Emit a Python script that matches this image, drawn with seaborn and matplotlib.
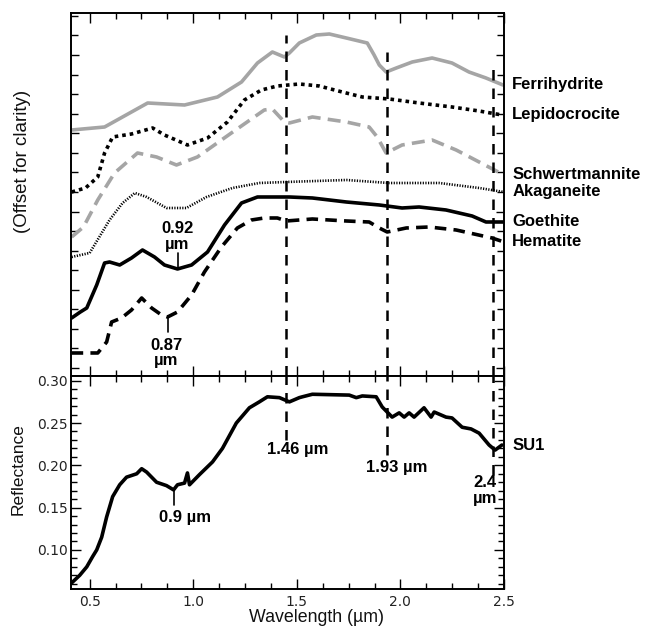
import matplotlib
matplotlib.use("Agg")
import matplotlib.pyplot as plt
import seaborn as sns
import pandas as pd
import numpy as np
from matplotlib.ticker import MultipleLocator, FixedLocator, FormatStrFormatter

# ---------------- data ----------------
# Top panel: laboratory spectra, offset for clarity (arbitrary units)
ferri_wl = [0.413, 0.572, 0.780, 0.958, 1.117, 1.233, 1.310, 1.382, 1.440, 1.464, 1.512, 1.594,
            1.657, 1.739, 1.840, 1.873, 1.898, 1.931, 1.980, 2.057, 2.153, 2.249, 2.331, 2.413, 2.495]
ferri_val = [246, 249, 273, 271, 279, 294, 313, 324, 319, 323, 333, 341,
             342, 338, 333, 321, 311, 304, 308, 314, 318, 313, 304, 298, 291]

lepido_wl = [0.413, 0.480, 0.539, 0.572, 0.611, 0.702, 0.804, 0.861, 0.972, 1.069, 1.165, 1.247,
             1.329, 1.406, 1.512, 1.608, 1.719, 1.816, 1.946, 2.090, 2.249, 2.380, 2.490]
lepido_val = [184, 188, 199, 223, 239, 242, 248, 241, 231, 238, 254, 276,
              286, 290, 292, 290, 284, 279, 277, 273, 269, 265, 261]

schwert_wl = [0.413, 0.470, 0.539, 0.620, 0.731, 0.823, 0.919, 1.020, 1.184, 1.343, 1.382, 1.440,
              1.464, 1.575, 1.739, 1.849, 1.888, 1.931, 2.008, 2.153, 2.269, 2.380, 2.500]
schwert_val = [139, 149, 176, 203, 223, 219, 211, 219, 243, 266, 267, 254,
               253, 259, 254, 249, 239, 223, 231, 236, 226, 214, 201]

akag_wl = [0.413, 0.500, 0.596, 0.659, 0.718, 0.775, 0.871, 0.967, 1.064, 1.189, 1.319, 1.449,
           1.739, 1.946, 2.187, 2.380, 2.500]
akag_val = [119, 123, 156, 173, 183, 179, 168, 168, 179, 188, 193, 194,
            196, 193, 193, 188, 184]

goeth_wl = [0.413, 0.455, 0.486, 0.534, 0.572, 0.596, 0.645, 0.702, 0.755, 0.813, 0.861, 0.924,
            0.992, 1.069, 1.151, 1.233, 1.310, 1.464, 1.575, 1.739, 1.898, 2.008, 2.090, 2.220,
            2.346, 2.413, 2.495]
goeth_val = [58, 64, 68, 91, 113, 114, 111, 118, 126, 119, 111, 107,
             111, 124, 151, 173, 179, 179, 178, 174, 171, 168, 169, 166,
             160, 154, 154]

hemat_wl = [0.413, 0.539, 0.582, 0.606, 0.654, 0.702, 0.751, 0.799, 0.847, 0.876, 0.924, 0.992,
            1.054, 1.136, 1.213, 1.281, 1.343, 1.406, 1.449, 1.575, 1.739, 1.849, 1.898, 1.936,
            2.028, 2.138, 2.269, 2.442, 2.500]
hemat_val = [23, 23, 34, 54, 58, 66, 78, 68, 61, 59, 64, 81,
             104, 129, 148, 156, 158, 158, 155, 157, 155, 154, 148, 144,
             148, 149, 146, 138, 134]

# Bottom panel: SU1 reflectance
su1_wl = [0.413, 0.452, 0.486, 0.514, 0.534, 0.558, 0.582, 0.611, 0.645, 0.678, 0.727, 0.751,
          0.775, 0.823, 0.871, 0.905, 0.924, 0.958, 0.972, 0.982, 1.030, 1.093, 1.141, 1.208,
          1.271, 1.319, 1.358, 1.416, 1.464, 1.512, 1.527, 1.575, 1.753, 1.787, 1.816, 1.883,
          1.912, 1.960, 1.994, 2.018, 2.042, 2.066, 2.114, 2.148, 2.163, 2.220, 2.249, 2.298,
          2.341, 2.380, 2.428, 2.457, 2.490]
su1_refl = [0.061, 0.070, 0.080, 0.092, 0.100, 0.115, 0.139, 0.163, 0.177, 0.186, 0.190, 0.196,
            0.192, 0.180, 0.176, 0.171, 0.177, 0.179, 0.191, 0.177, 0.189, 0.204, 0.220, 0.250,
            0.268, 0.275, 0.281, 0.280, 0.275, 0.280, 0.281, 0.284, 0.283, 0.280, 0.282, 0.281,
            0.269, 0.257, 0.262, 0.257, 0.262, 0.257, 0.268, 0.257, 0.263, 0.257, 0.256, 0.245,
            0.243, 0.238, 0.224, 0.218, 0.224]

# Absorption band markers
band_wl = [1.447, 1.935, 2.447]
band_top_start = [341, 324, 309]          # top-panel start of dashed line
band_bottom_end = [0.230, 0.212, 0.188]   # bottom-panel end of dashed line

x_major = [0.5, 1.0, 1.5, 2.0, 2.5]
y_major_bottom = [0.10, 0.15, 0.20, 0.25, 0.30]

# ---------------- style ----------------
sns.set_theme(style="ticks")
plt.rcParams["font.family"] = ["Liberation Sans", "DejaVu Sans"]
plt.rcParams["text.color"] = "black"
plt.rcParams["axes.labelcolor"] = "black"

GRAY = "#a5a5a5"
BLACK = "#000000"

fig = plt.figure(figsize=(6.45, 6.28), dpi=100)
ax1 = fig.add_axes([0.1101, 0.4013, 0.6713, 0.5780])
ax2 = fig.add_axes([0.1101, 0.0621, 0.6713, 0.3392])

series = [
    ("Ferrihydrite", ferri_wl, ferri_val, GRAY, "-", 2.6),
    ("Lepidocrocite", lepido_wl, lepido_val, BLACK, (0, (1.0, 1.1)), 2.6),
    ("Schwertmannite", schwert_wl, schwert_val, GRAY, (0, (3.6, 2.0)), 2.6),
    ("Akaganeite", akag_wl, akag_val, BLACK, (0, (0.45, 0.55)), 1.9),
    ("Goethite", goeth_wl, goeth_val, BLACK, "-", 2.6),
    ("Hematite", hemat_wl, hemat_val, BLACK, (0, (3.2, 2.0)), 2.6),
]

for name, wl, val, col, ls, lw in series:
    df = pd.DataFrame({"wl": wl, "val": val})
    sns.lineplot(data=df, x="wl", y="val", ax=ax1, color=col, linestyle=ls,
                 linewidth=lw, sort=False, errorbar=None)
    ax1.text(2.539, val[-1], name, fontsize=12, fontweight="bold", color="black",
             ha="left", va="center", clip_on=False)

df_su1 = pd.DataFrame({"wl": su1_wl, "refl": su1_refl})
sns.lineplot(data=df_su1, x="wl", y="refl", ax=ax2, color=BLACK, linewidth=2.6,
             sort=False, errorbar=None)
ax2.text(2.539, su1_refl[-1], "SU1", fontsize=12, fontweight="bold", color="black",
         ha="left", va="center", clip_on=False)

# dashed band lines
TOP_MAX = 363
for bx, ts, be in zip(band_wl, band_top_start, band_bottom_end):
    ax1.plot([bx, bx], [0, ts], color=BLACK, lw=1.8, linestyle=(0, (4.2, 3.2)))
    ax2.plot([bx, bx], [be, 0.3056], color=BLACK, lw=1.8, linestyle=(0, (4.2, 3.2)))

# annotations top panel
ax1.plot([0.924, 0.924], [108, 123], color=BLACK, lw=1.2)
ax1.text(0.924, 139.5, "0.92\nµm", fontsize=12, fontweight="bold", ha="center",
         va="center", linespacing=1.05, color="black")
ax1.plot([0.876, 0.876], [44, 59], color=BLACK, lw=1.2)
ax1.text(0.871, 23, "0.87\nµm", fontsize=12, fontweight="bold", ha="center",
         va="center", linespacing=1.05, color="black")

# annotations bottom panel
ax2.plot([0.905, 0.905], [0.153, 0.171], color=BLACK, lw=1.2)
ax2.text(0.960, 0.138, "0.9 µm", fontsize=12, fontweight="bold", ha="center", va="center",
         color="black")
ax2.text(1.505, 0.219, "1.46 µm", fontsize=12, fontweight="bold", ha="center", va="center",
         color="black")
ax2.text(1.981, 0.198, "1.93 µm", fontsize=12, fontweight="bold", ha="center", va="center",
         color="black")
ax2.text(2.466, 0.170, "2.4\nµm", fontsize=12, fontweight="bold", ha="right", va="center",
         multialignment="right", linespacing=1.05, color="black")

# ---------------- axes ----------------
for ax in (ax1, ax2):
    ax.set_xlim(0.41, 2.5)
    ax.xaxis.set_major_locator(FixedLocator(x_major))
    ax.xaxis.set_minor_locator(MultipleLocator(0.125))
    ax.tick_params(which="both", direction="in", top=True, right=True,
                   colors=BLACK, width=1.0)
    ax.tick_params(which="major", length=7)
    ax.tick_params(which="minor", length=4)
    for sp in ax.spines.values():
        sp.set_color(BLACK)
        sp.set_linewidth(1.4)
    ax.set_facecolor("white")

ax1.set_ylim(0, TOP_MAX)
top_ticks = [8 + 19.56 * k for k in range(19)]
ax1.yaxis.set_major_locator(FixedLocator(top_ticks[::4]))
ax1.yaxis.set_minor_locator(FixedLocator(top_ticks))
ax1.tick_params(axis="y", which="major", length=6)
ax1.tick_params(axis="y", which="minor", length=5)
ax1.set_xticklabels([])
ax1.set_yticklabels([])
ax1.set_xlabel("")
ax1.set_ylabel("(Offset for clarity)", fontsize=13.5, color="#111111")
ax1.yaxis.label.set_verticalalignment("center")
ax1.yaxis.set_label_coords(-0.113, 0.592)

ax2.set_ylim(0.0538, 0.3056)
ax2.yaxis.set_major_locator(FixedLocator(y_major_bottom))
ax2.yaxis.set_minor_locator(MultipleLocator(0.01))
ax2.yaxis.set_major_formatter(FormatStrFormatter("%.2f"))
ax2.xaxis.set_major_formatter(FormatStrFormatter("%.1f"))
ax2.tick_params(axis="both", which="major", labelsize=10, pad=4)
ax2.tick_params(axis="y", which="major", pad=2)
for lab in ax2.get_xticklabels() + ax2.get_yticklabels():
    lab.set_fontfamily("DejaVu Sans")
    lab.set_color("#222222")
ax2.set_xlabel("Wavelength (µm)", fontsize=12.8, color="#111111")
ax2.xaxis.label.set_verticalalignment("center")
ax2.xaxis.set_label_coords(0.566, -0.136)
ax2.set_ylabel("Reflectance", fontsize=12.5, color="#111111")
ax2.yaxis.label.set_verticalalignment("center")
ax2.yaxis.set_label_coords(-0.1224, 0.563)

fig.savefig("out.png", dpi=100, facecolor="white")
